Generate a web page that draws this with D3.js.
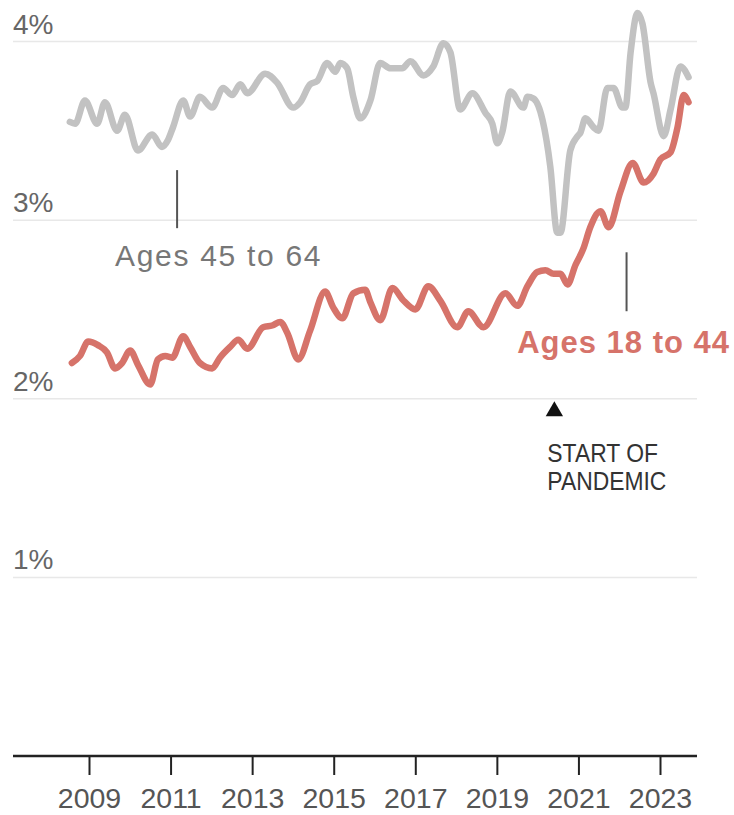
<!DOCTYPE html>
<html>
<head>
<meta charset="utf-8">
<script src="https://cdn.jsdelivr.net/npm/d3@7"></script>
<style>
  html, body { margin: 0; padding: 0; background: #fff; }
  svg { display: block; }
  text { font-family: "Liberation Sans", Arial, sans-serif; }
</style>
</head>
<body>
<svg id="chart" width="734" height="815"></svg>
<script>
// Share of adults in each age group (percent), by date (decimal year)
const olderDates = [2008.53, 2008.66, 2008.90, 2009.20, 2009.39, 2009.69, 2009.88, 2010.20, 2010.55, 2010.79,
  2010.94, 2011.06, 2011.31, 2011.48, 2011.72, 2012.02, 2012.29, 2012.51, 2012.71, 2012.88,
  2013.32, 2013.61, 2014.01, 2014.18, 2014.42, 2014.60, 2014.84, 2015.04, 2015.16, 2015.33,
  2015.48, 2015.65, 2015.90, 2016.14, 2016.39, 2016.68, 2016.88, 2017.20, 2017.44, 2017.69,
  2017.86, 2018.10, 2018.40, 2018.72, 2018.89, 2019.01, 2019.13, 2019.33, 2019.65, 2019.75,
  2019.90, 2020.12, 2020.31, 2020.48, 2020.56, 2020.80, 2020.98, 2021.05, 2021.17, 2021.37,
  2021.49, 2021.71, 2021.86, 2022.08, 2022.15, 2022.28, 2022.45, 2022.57, 2022.77, 2022.84,
  2023.09, 2023.26, 2023.50, 2023.70];
const olderValues = [3.55, 3.54, 3.67, 3.54, 3.66, 3.50, 3.59, 3.39, 3.48, 3.41,
  3.45, 3.52, 3.67, 3.58, 3.69, 3.63, 3.74, 3.70, 3.76, 3.71,
  3.82, 3.77, 3.63, 3.66, 3.76, 3.78, 3.88, 3.83, 3.88, 3.85,
  3.69, 3.57, 3.67, 3.88, 3.85, 3.85, 3.89, 3.81, 3.86, 3.99,
  3.94, 3.62, 3.71, 3.60, 3.54, 3.43, 3.49, 3.72, 3.63, 3.69,
  3.68, 3.56, 3.30, 2.93, 2.93, 3.39, 3.47, 3.49, 3.57, 3.52,
  3.50, 3.74, 3.74, 3.63, 3.63, 3.94, 4.16, 4.10, 3.77, 3.71,
  3.47, 3.62, 3.86, 3.80];

const youngerDates = [2008.58, 2008.78, 2008.98, 2009.22, 2009.44, 2009.64, 2009.81, 2010.01, 2010.20, 2010.50,
  2010.69, 2010.87, 2011.04, 2011.31, 2011.48, 2011.72, 2012.02, 2012.21, 2012.46, 2012.66,
  2012.88, 2013.27, 2013.49, 2013.69, 2013.86, 2014.13, 2014.42, 2014.79, 2014.99, 2015.21,
  2015.48, 2015.77, 2015.90, 2016.14, 2016.44, 2016.71, 2017.00, 2017.32, 2017.61, 2018.03,
  2018.30, 2018.67, 2019.21, 2019.50, 2019.75, 2019.99, 2020.19, 2020.39, 2020.56, 2020.73,
  2020.93, 2021.12, 2021.29, 2021.54, 2021.74, 2022.03, 2022.33, 2022.60, 2022.84, 2023.01,
  2023.26, 2023.43, 2023.58, 2023.70];
const youngerValues = [2.20, 2.24, 2.32, 2.30, 2.26, 2.17, 2.20, 2.27, 2.19, 2.08,
  2.22, 2.24, 2.23, 2.35, 2.29, 2.20, 2.17, 2.23, 2.29, 2.33,
  2.28, 2.40, 2.41, 2.43, 2.37, 2.22, 2.38, 2.60, 2.51, 2.45,
  2.59, 2.61, 2.54, 2.44, 2.62, 2.55, 2.50, 2.63, 2.55, 2.40,
  2.49, 2.40, 2.59, 2.52, 2.63, 2.71, 2.72, 2.70, 2.70, 2.64,
  2.75, 2.84, 2.96, 3.05, 2.96, 3.16, 3.32, 3.21, 3.26, 3.34,
  3.38, 3.52, 3.70, 3.66];

const yearTicks = [2009, 2011, 2013, 2015, 2017, 2019, 2021, 2023];
const percentTicks = [1, 2, 3, 4];
const percentLabels = ["1%", "2%", "3%", "4%"];

const pandemicStart = 2020.41;
const olderLabel = "Ages 45 to 64";
const youngerLabel = "Ages 18 to 44";
const pandemicLabel = ["START OF", "PANDEMIC"];

const svg = d3.select("#chart");
const left = 13, right = 697;

const x = d3.scaleLinear().domain([2009, 2023]).range([89, 660]);
const y = d3.scaleLinear().domain([0, 4]).range([756, 41.5]);

// Horizontal gridlines with percent labels sitting above them
const grid = svg.append("g");
grid.selectAll("line")
  .data(percentTicks)
  .join("line")
  .attr("x1", left).attr("x2", right)
  .attr("y1", d => y(d)).attr("y2", d => y(d))
  .attr("stroke", "#e8e8e8").attr("stroke-width", 1.5);
grid.selectAll("text")
  .data(percentTicks)
  .join("text")
  .attr("x", left)
  .attr("y", d => y(d) - 8)
  .attr("fill", "#666")
  .attr("font-size", 28)
  .text((d, i) => percentLabels[i]);

// Bottom axis
const axis = svg.append("g")
  .attr("transform", `translate(0,${y(0)})`)
  .call(d3.axisBottom(x).tickValues(yearTicks).tickFormat(d3.format("d")).tickSize(19).tickPadding(13).tickSizeOuter(0));
axis.select(".domain").remove();
axis.selectAll(".tick line").attr("stroke", "#222").attr("stroke-width", 2);
axis.selectAll(".tick text")
  .attr("fill", "#555")
  .attr("font-size", 28.5)
  .attr("font-family", "Liberation Sans, Arial, sans-serif");
svg.append("line")
  .attr("x1", left).attr("x2", right)
  .attr("y1", y(0)).attr("y2", y(0))
  .attr("stroke", "#222").attr("stroke-width", 2.5);

// Series lines
const line = d3.line()
  .x(d => x(d[0]))
  .y(d => y(d[1]))
  .curve(d3.curveMonotoneX);

const older = d3.zip(olderDates, olderValues);
const younger = d3.zip(youngerDates, youngerValues);

svg.append("path")
  .datum(older)
  .attr("d", line)
  .attr("fill", "none")
  .attr("stroke", "#c2c2c2")
  .attr("stroke-width", 6.5)
  .attr("stroke-linejoin", "round")
  .attr("stroke-linecap", "round");

svg.append("path")
  .datum(younger)
  .attr("d", line)
  .attr("fill", "none")
  .attr("stroke", "#d6736a")
  .attr("stroke-width", 6.5)
  .attr("stroke-linejoin", "round")
  .attr("stroke-linecap", "round");

// Series labels with leader ticks
const olderTickX = x(2011.16);
svg.append("line")
  .attr("x1", olderTickX).attr("x2", olderTickX)
  .attr("y1", y(3.28)).attr("y2", y(2.955))
  .attr("stroke", "#555").attr("stroke-width", 2);
svg.append("text")
  .attr("x", 115).attr("y", y(2.745))
  .attr("fill", "#777")
  .attr("font-size", 30)
  .attr("letter-spacing", 1.7)
  .text(olderLabel);

const youngerTickX = x(2022.18);
svg.append("line")
  .attr("x1", youngerTickX).attr("x2", youngerTickX)
  .attr("y1", y(2.82)).attr("y2", y(2.49))
  .attr("stroke", "#555").attr("stroke-width", 2);
svg.append("text")
  .attr("x", 730).attr("y", y(2.256))
  .attr("text-anchor", "end")
  .attr("fill", "#d6736a")
  .attr("font-size", 31)
  .attr("font-weight", "bold")
  .attr("letter-spacing", 1)
  .text(youngerLabel);

// Pandemic marker and its condensed two-line note
const px = x(pandemicStart);
const markerY = y(1.93);
svg.append("path")
  .attr("d", d3.symbol(d3.symbolTriangle, 130)())
  .attr("transform", `translate(${px},${markerY})`)
  .attr("fill", "#111");
svg.append("g")
  .attr("transform", `translate(${px - 7},462) scale(0.88,1)`)
  .append("text")
  .attr("fill", "#333")
  .attr("font-size", 26)
  .selectAll("tspan")
  .data(pandemicLabel)
  .join("tspan")
  .attr("x", 0)
  .attr("dy", (d, i) => i === 0 ? 0 : 28)
  .text(d => d);
</script>
</body>
</html>
